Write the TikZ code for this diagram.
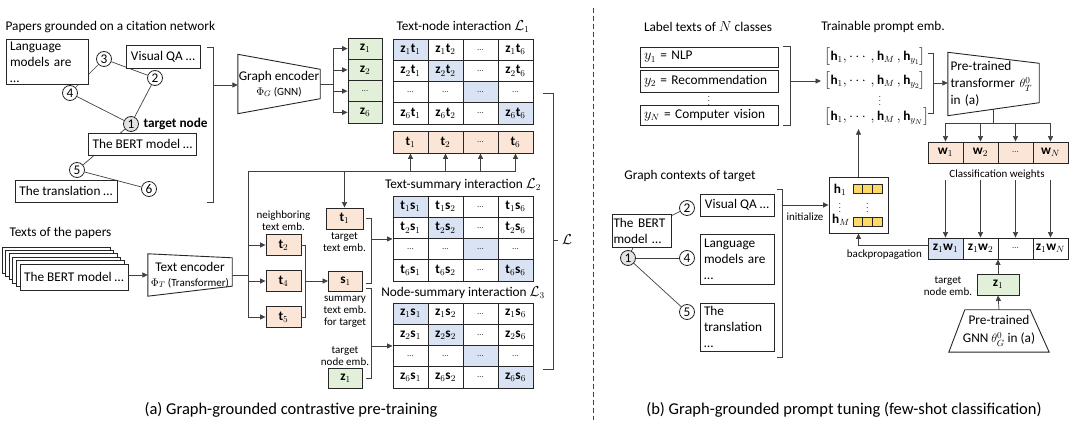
\documentclass[tikz,border=0pt]{standalone}
\usepackage{fontspec}
\setmainfont{Carlito}
\usepackage{amsmath}
\usetikzlibrary{arrows.meta,calc}
\pgfdeclarelayer{bg}
\pgfsetlayers{bg,main}
\definecolor{cgreen}{HTML}{E2F0D9}
\definecolor{cpeach}{HTML}{FBE5D6}
\definecolor{cblue}{HTML}{DAE3F3}
\definecolor{cyellow}{HTML}{FFD966}
\definecolor{cgray}{HTML}{E3E3E3}
\definecolor{lc}{HTML}{404040}
\definecolor{bc}{HTML}{262626}
\newcommand\mainf{\fontsize{13.3}{16}\selectfont}
\newcommand\smf{\fontsize{11}{12}\selectfont}
\newcommand\capf{\fontsize{16.5}{18}\selectfont}
\newcommand\celldots{\textcolor{black!75}{\fontsize{9}{9}\selectfont …}}
\newcommand\drawmat[4]{%
 \foreach \rr/\ri in {1/1,2/2,3/0,4/6}{%
  \foreach \cc/\ci in {1/1,2/2,3/0,4/6}{%
   \pgfmathtruncatemacro\dd{(\ri==0)||(\ci==0)}%
   \ifnum\rr=\cc\relax\def\cf{cblue}\else\def\cf{white}\fi
   \node[cell, fill=\cf] (#1-\rr-\cc) at ({393+35*\cc-17.5},{#2+21.25*\rr-10.625}) {\ifnum\dd=1 \celldots\else$\mathbf{#3}_{\ri}\mathbf{#4}_{\ci}$\fi};
  }%
 }%
}
\begin{document}
\begin{tikzpicture}[x=1pt,y=-1pt, font=\mainf,
  tbox/.style={draw=bc, line width=0.9pt, fill=white, align=left, inner xsep=4pt, inner ysep=2pt},
  circ/.style={draw=bc, circle, line width=0.8pt, fill=white, minimum size=15pt, inner sep=0pt},
  edge/.style={draw=lc, line width=0.7pt},
  arr/.style={draw=lc, line width=0.7pt, -{Triangle[length=5.5pt,width=5pt]}},
  cell/.style={draw=bc, line width=0.9pt, minimum width=35pt, minimum height=21.25pt, inner sep=0pt},
  lbl/.style={font=\smf, align=center, inner sep=0pt},
  trap/.style={draw=bc, line width=0.9pt}]
\useasboundingbox (0,0) rectangle (1080,446);

% ================= (a) left panel =================
\node[anchor=west] (ptitle) at (2,27) {Papers grounded on a citation network};
\node[tbox, text width=74pt, minimum height=38pt] (lang) at (47,62) {Language\\models are …};
\node[tbox, minimum width=74pt, minimum height=23pt] (vqa) at (163,56.5) {Visual QA …};
\node[tbox, minimum width=105pt, minimum height=22pt] (bert) at (142.5,144) {The BERT model …};
\node[tbox, minimum width=102pt, minimum height=22pt] (trans) at (66,191) {The translation …};
\node[circ] (c3) at (104,59) {3};
\node[circ] (c2) at (155,78) {2};
\node[circ] (c4) at (70,93) {4};
\node[circ, fill=cgray] (c1) at (131,124) {1};
\node[circ] (c5) at (77,170) {5};
\node[circ] (c6) at (149,189) {6};
\node[anchor=west, font=\mainf\bfseries] (tgt) at (140,124) {target node};
\begin{pgfonlayer}{bg}
\draw[edge] (c4) -- (c3);
\draw[edge] (c3) -- (c2);
\draw[edge] (c2) -- (c1);
\draw[edge] (c4) -- (c1);
\draw[edge] (c1) -- (c5);
\draw[edge] (c5) -- (c6);
\end{pgfonlayer}

% graph encoder
\node[minimum width=82pt, minimum height=59pt, align=center, inner sep=0pt] (genc) at (279,84) {Graph encoder\\[-1pt]{\smf $\Phi_G$ (GNN)}};
\draw[trap] (genc.north west) -- ([yshift=-15pt]genc.north east) -- ([yshift=15pt]genc.south east) -- (genc.south west) -- cycle;
\draw[edge] (207,47) -- (213,47) -- (213,202) -- (207,202);
\coordinate (gbk) at (213,85);
\draw[arr] (gbk) -- (gbk -| genc.west);

\foreach \n/\lab [count=\i] in {z1/$\mathbf{z}_1$, z2/$\mathbf{z}_2$, zd/\celldots, z6/$\mathbf{z}_6$}
  \node[cell, fill=cgreen, minimum width=34pt] (\n) at (365,{38+21.25*\i-10.625}) {\lab};
\draw[edge] (genc.east) -- ++(13,0) coordinate (gs);
\draw[edge] (gs |- z1) -- (gs |- z6);
\foreach \n in {z1,z2,zd,z6} \draw[arr] (gs |- \n) -- (\n.west);

% matrices
\node (ti1) at (463,27) {Text-node interaction $\mathcal{L}_1$};
\node (ti2) at (463,185) {Text-summary interaction $\mathcal{L}_2$};
\node (ti3) at (463,293) {Node-summary interaction $\mathcal{L}_3$};
\drawmat{ma}{39}{z}{t}
\drawmat{mb}{196}{t}{s}
\drawmat{mc}{303}{z}{s}

\foreach \n/\lab [count=\i] in {ta1/$\mathbf{t}_1$, ta2/$\mathbf{t}_2$, tad/\celldots, ta6/$\mathbf{t}_6$}
  \node[cell, fill=cpeach, minimum height=22pt] (\n) at ({393+35*\i-17.5},142) {\lab};

% texts of papers
\node[anchor=west] (tpt) at (6,233) {Texts of the papers};
\foreach \k in {5,4,3,2,1}
  \node[tbox, minimum width=108pt, minimum height=26pt] (st\k) at ({74-3.6*\k},{277-3.4*\k}) {};
\node[tbox, minimum width=108pt, minimum height=26pt] (tfront) at (74,277) {The BERT model …};

\node[minimum width=84pt, minimum height=42pt, align=center, inner sep=0pt] (tenc) at (190,275) {Text encoder\\[-1pt]{\smf $\Phi_T$ (Transformer)}};
\draw[trap] (tenc.north west) -- ([yshift=-4pt]tenc.north east) -- ([yshift=10pt]tenc.south east) -- (tenc.south west) -- cycle;
\draw[arr] (tfront.east |- tenc) -- (tenc.west);

% embeddings
\node[cell, fill=cpeach, minimum height=21pt] (t2) at (283.5,245) {$\mathbf{t}_2$};
\node[cell, fill=cpeach, minimum height=21pt] (t4) at (283.5,281) {$\mathbf{t}_4$};
\node[cell, fill=cpeach, minimum height=21pt] (t5) at (283.5,317) {$\mathbf{t}_5$};
\node[cell, fill=cpeach, minimum width=37pt, minimum height=21pt] (t1) at (344.5,218.5) {$\mathbf{t}_1$};
\node[cell, fill=cpeach, minimum width=34pt, minimum height=20pt] (s1) at (345.5,281) {$\mathbf{s}_1$};
\node[cell, fill=cgreen, minimum width=34pt, minimum height=20pt] (tz1) at (345.5,378) {$\mathbf{z}_1$};
\node[lbl] (lnb) at (283.5,221) {neighboring\\text emb.};
\node[lbl] (ltt) at (344.5,242) {target\\text emb.};
\node[lbl] (lsum) at (345,312) {summary\\text emb.\\for target};
\node[lbl] (ltn) at (345,356) {target\\node emb.};

\coordinate (hl) at (248,171);
\draw[edge] (hl) -- (hl -| ta6);
\foreach \n in {ta1,ta2,tad,ta6} \draw[arr] (hl -| \n) -- (\n.south);
\draw[arr] (hl -| t1) -- (t1.north);
\draw[edge] (hl) -- (hl |- t5);
\draw[edge] (tenc.east) -- (hl |- tenc);
\foreach \n in {t2,t4,t5} \draw[arr] (hl |- \n) -- (\n.west);

\draw[edge] (t2.east) -- ++(4,0) coordinate (nb) -- (nb |- t5) -- (t5.east);
\draw[arr] (nb |- s1) -- (s1.west);
\coordinate (s1a) at ([xshift=3pt,yshift=-2pt]s1.east);
\coordinate (s1b) at ([xshift=3pt,yshift=-7pt]s1.east);
\draw[edge] ([xshift=3pt]t1.east) -- ++(5,0) coordinate (b1) -- (b1 |- s1a) -- (s1a);
\draw[arr] (b1 |- mb-2-1.south west) -- (mb-2-1.south west);
\draw[edge] (s1b) -- ++(5,0) coordinate (b2) -- (b2 |- tz1) -- ([xshift=3pt]tz1.east);
\draw[arr] (b2 |- mc-2-1.south west) -- (mc-2-1.south west);

\draw[edge] (543,93) -- (553,93) -- (553,369) -- (543,369);
\draw[edge] (553,240) -- (558,240);
\node (Lb) at (567,240) {$\mathcal{L}$};

% divider and captions
\draw[lc, line width=0.8pt, dash pattern=on 5pt off 3pt] (593,8) -- (593,420);
\node[font=\capf] (capa) at (291,410) {(a) Graph-grounded contrastive pre-training};
\node[font=\capf] (capb) at (844,410) {(b) Graph-grounded prompt tuning (few-shot classification)};

% ================= (b) right panel =================
\node (lt) at (708,27) {Label texts of $N$ classes};
\node[tbox, text width=130pt, minimum height=20pt] (y1) at (709,57) {$y_1$ = NLP};
\node[tbox, text width=130pt, minimum height=22pt] (y2) at (709,81) {$y_2$ = Recommendation};
\node (yv) at (709,98) {\fontsize{8}{8}\selectfont$\vdots$};
\node[tbox, text width=130pt, minimum height=20pt] (yN) at (709,115) {$y_N$ = Computer vision};
\draw[edge] ([xshift=5pt]y1.north east) -- ++(7,0) coordinate (lb) -- (lb |- yN.south) -- ([xshift=5pt]yN.south east);

\node (tpe) at (883,27) {Trainable prompt emb.};
\node[anchor=west] (hr1) at (821,57) {$\big[\mathbf{h}_1,\cdots,\mathbf{h}_M\,,\mathbf{h}_{y_1}\big]$};
\node[anchor=west] (hr2) at (821,81) {$\big[\mathbf{h}_1,\cdots,\mathbf{h}_M\,,\mathbf{h}_{y_2}\big]$};
\node (hrv) at (880,98) {\fontsize{8}{8}\selectfont$\vdots$};
\node[anchor=west] (hrN) at (821,117) {$\big[\mathbf{h}_1,\cdots,\mathbf{h}_M\,,\mathbf{h}_{y_N}\big]$};
\draw[arr] (lb |- hr2) -- (hr2.west);

\node[minimum width=91pt, minimum height=63pt, text width=86pt, align=left, inner xsep=2.5pt, inner ysep=0pt] (ptt) at (993.5,84) {Pre-trained\\[1pt]transformer {\fontsize{12.5}{14}\selectfont$\theta_T^0$}\\[1pt]in (a)};
\draw[trap] (ptt.north west) -- ([yshift=-11pt]ptt.north east) -- ([yshift=13pt]ptt.south east) -- (ptt.south west) -- cycle;
\draw[edge] (928,53) -- (933,53) -- (933,113) -- (928,113);
\coordinate (hb) at (933,83);
\draw[arr] (hb) -- (hb -| ptt.west);

\foreach \n/\lab [count=\i] in {w1/$\mathbf{w}_1$, w2/$\mathbf{w}_2$, wd/\celldots, wN/$\mathbf{w}_N$}
  \node[cell, fill=cpeach, minimum height=21pt] (\n) at ({928+35*\i-17.5},152.5) {\lab};
\coordinate (pb) at ($(ptt.south west)!0.5!([yshift=13pt]ptt.south east)$);
\coordinate (ws) at (993.5,123);
\draw[edge] (pb) -- (ws);
\draw[edge] (ws -| w1) -- (ws -| wN);
\foreach \n in {w1,w2,wd,wN} \draw[arr] (ws -| \n) -- (\n.north);
\node[lbl] (cw) at (997,175) {Classification weights};

\node[cell, fill=cblue, minimum height=21pt] (zw1) at (945.5,248.5) {$\mathbf{z}_1\mathbf{w}_1$};
\node[cell, fill=white, minimum height=21pt] (zw2) at (980.5,248.5) {$\mathbf{z}_1\mathbf{w}_2$};
\node[cell, fill=white, minimum height=21pt] (zwd) at (1015.5,248.5) {\celldots};
\node[cell, fill=white, minimum height=21pt] (zwN) at (1050.5,248.5) {$\mathbf{z}_1\mathbf{w}_N$};
\foreach \a/\b in {w1/zw1,w2/zw2,wd/zwd,wN/zwN} \draw[arr] (\a |- cw.south) -- (\b.north);

% h box
\node[draw=bc, line width=0.9pt, minimum width=59pt, minimum height=56pt, fill=white] (hbox) at (858.5,205) {};
\node (hh1) at (840,190) {$\mathbf{h}_1$};
\node (hhv) at (840,205) {\fontsize{8}{8}\selectfont$\vdots$};
\node (hhM) at (841,220) {$\mathbf{h}_M$};
\foreach \i in {1,2,3} {
  \node[draw=bc, fill=cyellow, line width=0.6pt, minimum width=9.7pt, minimum height=9pt, inner sep=0pt] (ya\i) at ({848.1+9.7*\i},188.5) {};
  \node[draw=bc, fill=cyellow, line width=0.6pt, minimum width=9.7pt, minimum height=9pt, inner sep=0pt] (yb\i) at ({848.1+9.7*\i},222) {};
}
\node (yv2) at (867.5,205) {\fontsize{8}{8}\selectfont$\vdots$};
\draw[arr] (hbox.north) -- (hbox.north |- hrN.south);
\draw[arr] ([yshift=3pt]zw1.west) -| (hbox.south);
\node[lbl, anchor=north east] (bp) at (922,250) {backpropagation};

% graph contexts
\node (gct) at (690,176) {Graph contexts of target};
\node[tbox, text width=56pt, inner xsep=1.5pt, minimum height=33pt] (rbert) at (641.5,230.5) {The BERT\\model …};
\node[tbox, minimum width=74pt, minimum height=22pt] (rvqa) at (737,205) {Visual QA …};
\node[tbox, text width=66pt, minimum height=50pt] (rlang) at (737,259) {Language\\models are\\…};
\node[tbox, text width=66pt, minimum height=48pt] (rtrans) at (737,327) {The\\translation\\…};
\node[circ, fill=cgray] (rc1) at (628,258) {1};
\node[circ] (rc2) at (687,208) {2};
\node[circ] (rc4) at (687,258) {4};
\node[circ] (rc5) at (687,312) {5};
\begin{pgfonlayer}{bg}
\draw[edge] (rc1) -- (rbert.center) -- (rc2);
\draw[edge] (rc1) -- (rc4);
\draw[edge] (rc1) -- (rc5);
\end{pgfonlayer}
\draw[edge] (777,189) -- (782,189) -- (782,357) -- (777,357);
\coordinate (ib) at (782,205);
\draw[arr] (ib) -- (ib -| hbox.west);
\node[lbl] (init) at (805,217) {initialize};

% GNN
\node[cell, fill=cgreen, minimum width=42pt, minimum height=21pt] (rz1) at (998,284.5) {$\mathbf{z}_1$};
\node[lbl] (rtn) at (948,286) {target\\node emb.};
\draw[arr] (rz1.north) -- (rz1.north |- zw1.south);
\node[minimum width=100pt, minimum height=42pt, align=center, inner sep=0pt] (gnn) at (999,331) {Pre-trained\\[2pt]GNN {\fontsize{12.5}{14}\selectfont$\theta_G^0$} in (a)};
\draw[trap] ([xshift=16pt]gnn.north west) -- ([xshift=-19pt]gnn.north east) -- (gnn.south east) -- (gnn.south west) -- cycle;
\draw[arr] (gnn.north) -- (rz1.south);
\end{tikzpicture}
\end{document}
